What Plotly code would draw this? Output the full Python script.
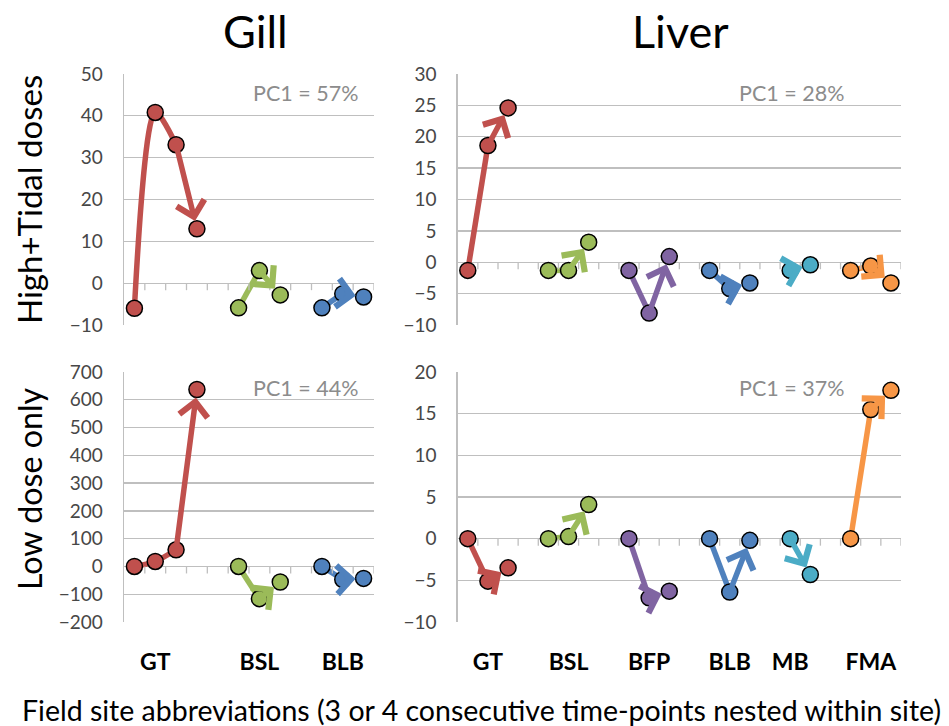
import plotly.graph_objects as go

# ---------------- data ----------------
gill_sites = ["GT", "BSL", "BLB"]
gill_site_pos = [[0, 1, 2, 3], [5, 6, 7], [9, 10, 11]]
gill_label_pos = [1, 6, 10]
gill_ncat = 12

liver_sites = ["GT", "BSL", "BFP", "BLB", "MB", "FMA"]
liver_site_pos = [[0, 1, 2], [4, 5, 6], [8, 9, 10], [12, 13, 14], [16, 17], [19, 20, 21]]
liver_label_pos = [1, 5, 9, 13, 16, 20]
liver_ncat = 22

gill_high = [[-6, 40.8, 33.1, 13.0], [-5.9, 3.0, -2.8], [-5.9, -2.5, -3.3]]
liver_high = [[-1.3, 18.6, 24.6], [-1.3, -1.3, 3.2], [-1.3, -8.1, 0.9],
              [-1.3, -4.2, -3.3], [-1.3, -0.4], [-1.3, -0.6, -3.3]]
gill_low = [[0, 18, 60, 637], [0, -116, -56], [0, -47, -43]]
liver_low = [[0, -5.1, -3.5], [0, 0.25, 4.1], [0, -7.1, -6.3],
             [0, -6.4, -0.2], [0, -4.3], [0, 15.5, 17.8]]

gill_colors = ["#C0504D", "#9BBB59", "#4F81BD"]
liver_colors = ["#C0504D", "#9BBB59", "#8064A2", "#4F81BD", "#4BACC6", "#F79646"]

pc1_labels = ["PC1 = 57%", "PC1 = 28%", "PC1 = 44%", "PC1 = 37%"]
y_ranges = [(-10, 50, 10), (-10, 30, 5), (-200, 700, 100), (-10, 20, 5)]

col_titles = ["Gill", "Liver"]
row_titles = ["High+Tidal doses", "Low dose only"]
x_title = "Field site abbreviations (3 or 4 consecutive time-points nested within site)"

# ---------------- layout geometry ----------------
W, H = 949, 726
FONT = "Lato"
x_dom = [[124 / W, 374 / W], [457.7 / W, 901 / W]]
y_dom = [[1 - 325 / H, 1 - 74 / H], [1 - 622 / H, 1 - 372 / H]]

fig = go.Figure()

panels = [
    (gill_site_pos, gill_high, gill_colors, gill_ncat, gill_sites, gill_label_pos, 0, 0),
    (liver_site_pos, liver_high, liver_colors, liver_ncat, liver_sites, liver_label_pos, 1, 0),
    (gill_site_pos, gill_low, gill_colors, gill_ncat, gill_sites, gill_label_pos, 0, 1),
    (liver_site_pos, liver_low, liver_colors, liver_ncat, liver_sites, liver_label_pos, 1, 1),
]

annotations = []
shapes = []
grid = "#BFBFBF"

for i, (pos, vals, cols, ncat, sites, lpos, c, r) in enumerate(panels):
    n = i + 1
    xa = "x" if n == 1 else f"x{n}"
    ya = "y" if n == 1 else f"y{n}"
    xkey = "xaxis" if n == 1 else f"xaxis{n}"
    ykey = "yaxis" if n == 1 else f"yaxis{n}"
    lo, hi, dt = y_ranges[i]

    for p, v, col in zip(pos, vals, cols):
        # line through all but last point; last segment is the arrow
        fig.add_trace(go.Scatter(
            x=p[:-1], y=v[:-1], xaxis=xa, yaxis=ya, mode="lines",
            line=dict(color=col, width=5.5, shape="spline", smoothing=0.8),
            hoverinfo="skip", showlegend=False))
        annotations.append(dict(
            x=p[-1], y=v[-1], ax=p[-2], ay=v[-2], xref=xa, yref=ya,
            axref=xa, ayref=ya, text="", showarrow=True, arrowhead=4,
            arrowsize=1.0, arrowwidth=5.5, arrowcolor=col,
            standoff=8, startstandoff=0))
        fig.add_trace(go.Scatter(
            x=p, y=v, xaxis=xa, yaxis=ya, mode="markers",
            marker=dict(color=col, size=16, line=dict(color="black", width=1.5)),
            hoverinfo="skip", showlegend=False))

    # tick marks on the zero line, between categories
    for k in range(1, ncat + 1):
        shapes.append(dict(
            type="line", xref=xa, yref=ya, x0=k - 0.5, x1=k - 0.5,
            ysizemode="pixel", yanchor=0, y0=0, y1=-7,
            line=dict(color=grid, width=1.3)))

    fig.layout[xkey] = dict(
        domain=x_dom[c], anchor=ya, range=[-0.5, ncat - 0.5], automargin=False,
        showgrid=False, zeroline=False, showline=False, ticks="",
        tickvals=lpos if r == 1 else [], ticktext=sites if r == 1 else [],
        showticklabels=(r == 1), ticklabelstandoff=24,
        tickfont=dict(family=FONT, size=23, color="black", weight="bold"))
    fig.layout[ykey] = dict(
        domain=y_dom[r], anchor=xa, range=[lo, hi], dtick=dt, tick0=0,
        automargin=False,
        showgrid=True, gridcolor=grid, gridwidth=1.3, zeroline=False,
        showline=True, linecolor=grid, linewidth=1.3, ticks="",
        ticklabelstandoff=16,
        tickfont=dict(family=FONT, size=19, color="#474747"))

    # PC1 label
    px = 360 / W if c == 0 else 845.7 / W
    py = 1 - (93 / H if r == 0 else 388 / H)
    annotations.append(dict(
        x=px, y=py, xref="paper", yref="paper", xanchor="right", yanchor="middle",
        text=pc1_labels[i], showarrow=False,
        font=dict(family=FONT, size=21.5, color="#8C8C8C")))

# column titles
for t, cx in zip(col_titles, [256, 680]):
    annotations.append(dict(x=cx / W, y=1 - 31 / H, xref="paper", yref="paper",
                            text=t, showarrow=False, xanchor="center", yanchor="middle",
                            font=dict(family=FONT, size=45, color="black")))
# row titles
for t, cy, fs in zip(row_titles, [200, 489], [33, 32.2]):
    annotations.append(dict(x=29 / W, y=1 - cy / H, xref="paper", yref="paper",
                            text=t, showarrow=False, textangle=-90,
                            xanchor="center", yanchor="middle",
                            font=dict(family=FONT, size=fs, color="black")))
# bottom title
annotations.append(dict(x=481 / W, y=1 - 710 / H, xref="paper", yref="paper",
                        text=x_title, showarrow=False, xanchor="center", yanchor="middle",
                        font=dict(family=FONT, size=28.5, color="black")))

fig.update_layout(
    width=W, height=H, margin=dict(l=0, r=0, t=0, b=0, pad=0, autoexpand=False),
    paper_bgcolor="white", plot_bgcolor="white",
    annotations=annotations, shapes=shapes, showlegend=False)

fig.write_html(
    "out.html",
    config={"displayModeBar": False, "staticPlot": True},
    post_script="document.body.style.margin='0';document.body.style.overflow='hidden';")
